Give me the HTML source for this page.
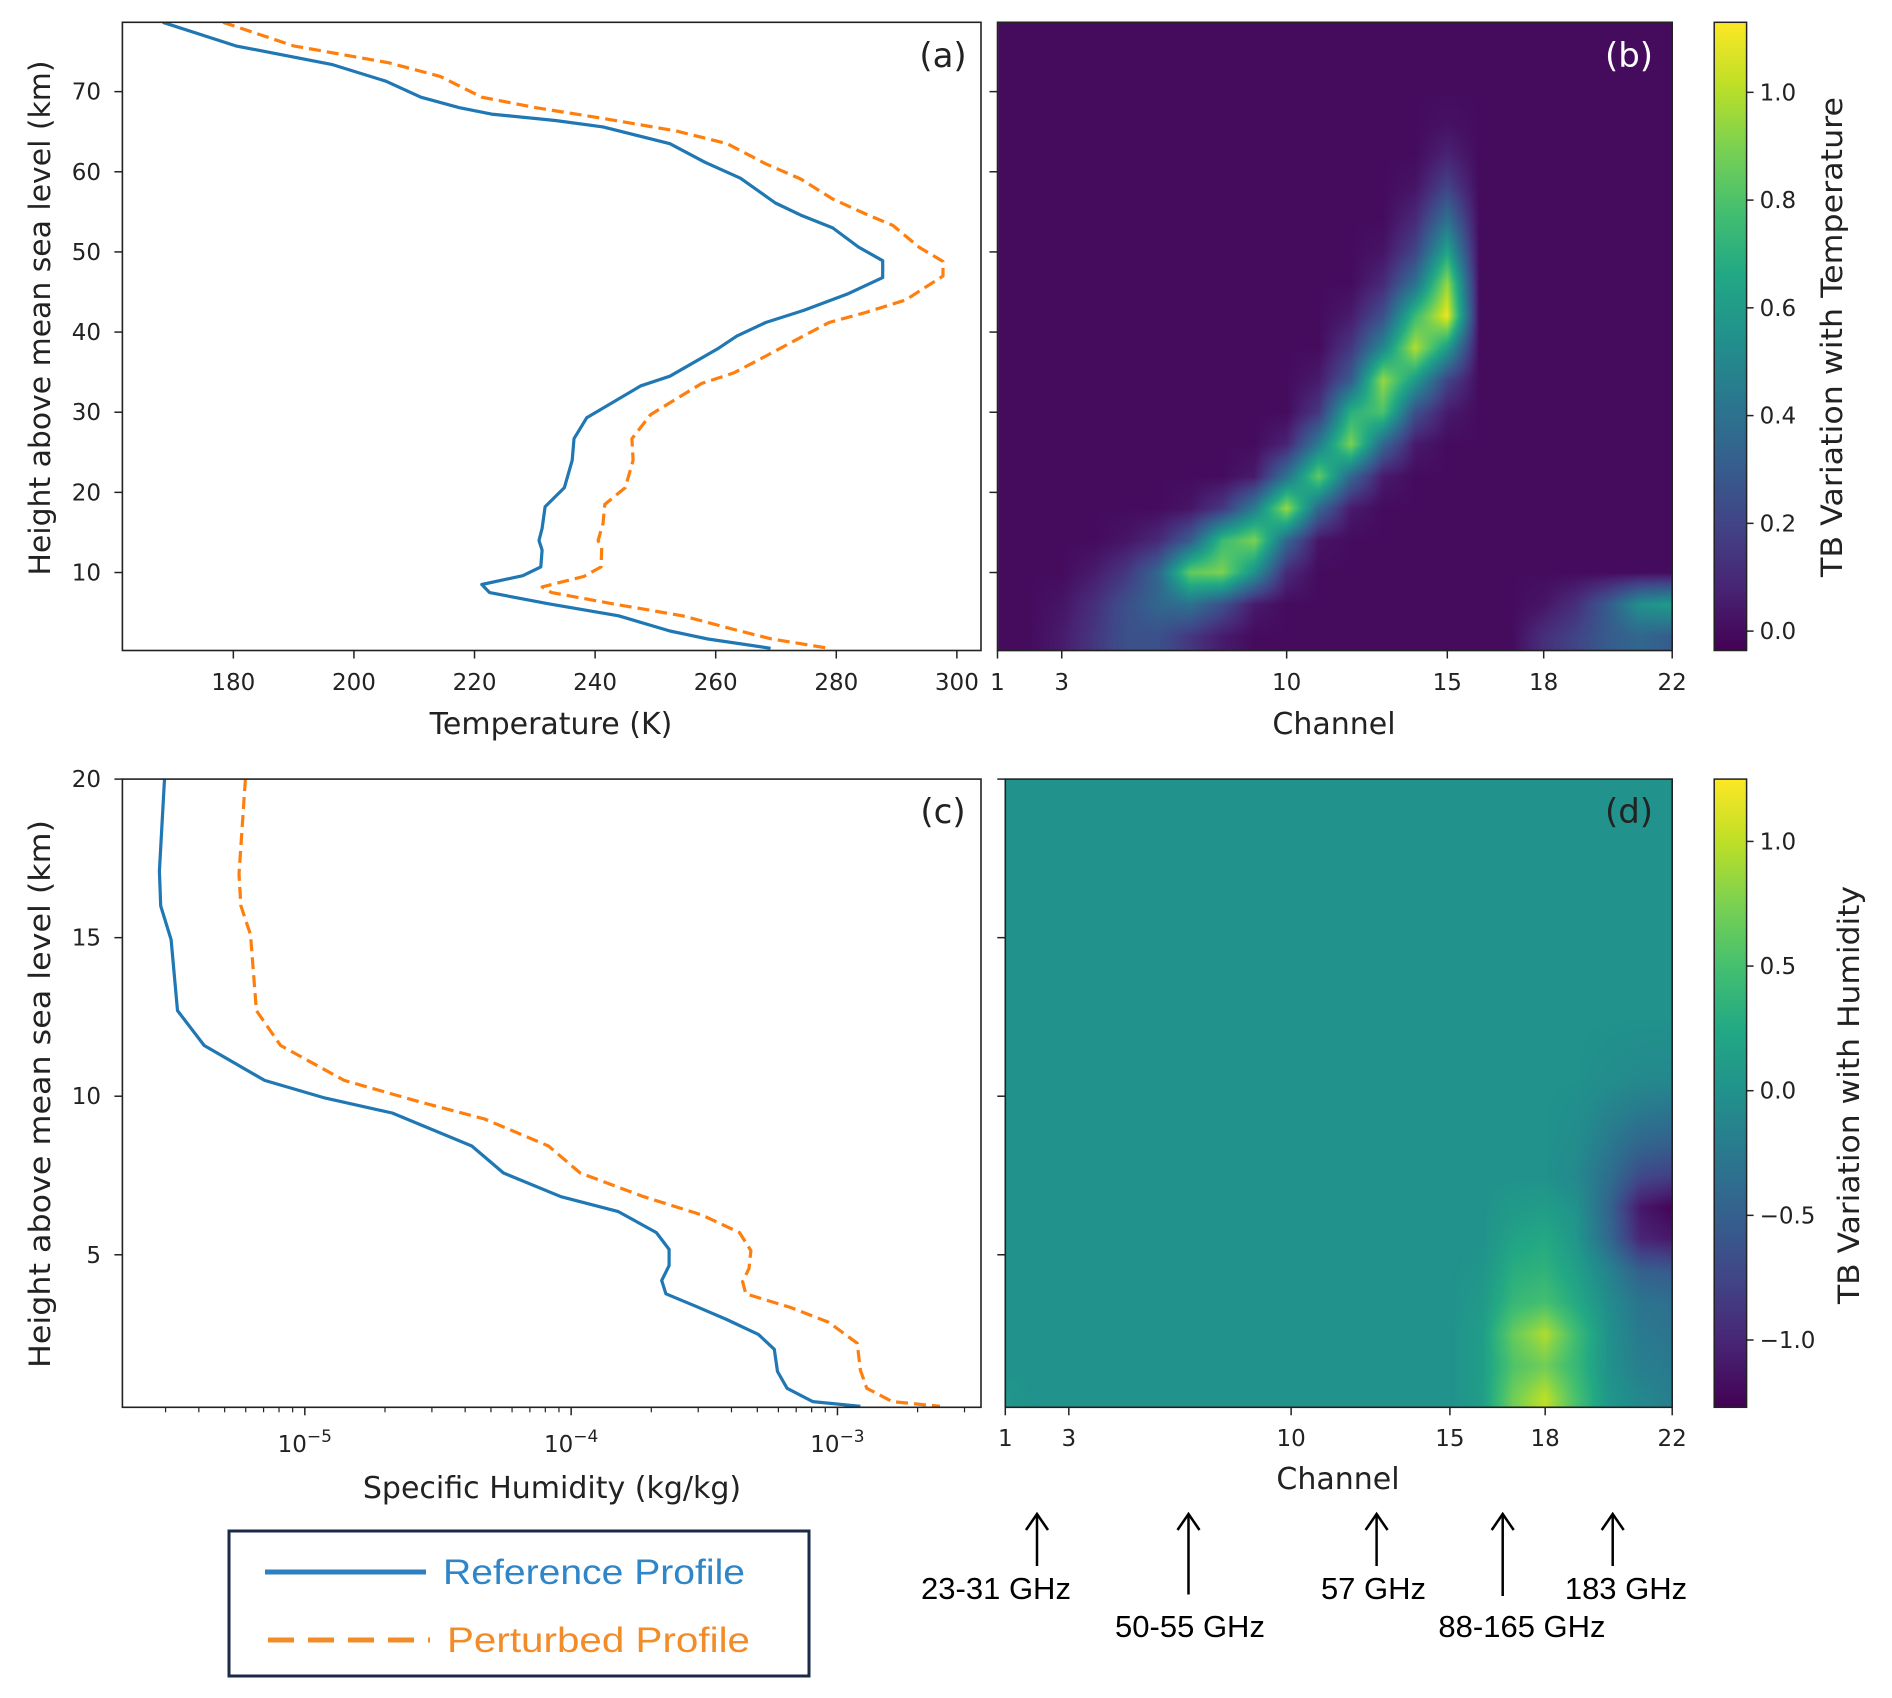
<!DOCTYPE html>
<html><head><meta charset="utf-8">
<style>
html,body{margin:0;padding:0;background:#fff;}
#wrap{position:relative;width:1892px;height:1698px;overflow:hidden;}
canvas{position:absolute;}
svg{position:absolute;left:0;top:0;}
text{font-family:"DejaVu Sans","Liberation Sans",sans-serif;fill:#222;}
.cal{font-family:"Liberation Sans",sans-serif;}
</style></head>
<body>
<div id="wrap">
<canvas id="hmB" width="1892" height="1698" style="left:0;top:0"></canvas>
<canvas id="hmD" width="1892" height="1698" style="left:0;top:0"></canvas>
<svg id="svg" width="1892" height="1698" xmlns="http://www.w3.org/2000/svg"></svg>
</div>
<script>
// ---------- DATA ----------
const tempRefT = [168.3,180.4,196.3,205.3,211.1,217.5,222.8,233.4,241.3,252.4,258.2,264.1,269.9,274.1,279.4,283.7,287.7,287.7,282.0,274.6,268.3,263.5,260.3,252.4,247.6,238.6,236.5,236.2,234.9,231.7,231.2,230.7,231.2,231.0,228.0,221.2,222.5,232.3,243.9,252.4,258.7,269.1];
const tempRefH = [78.65,75.7,73.4,71.3,69.3,68.0,67.2,66.4,65.6,63.5,61.2,59.2,56.1,54.6,53.0,50.6,48.9,46.8,44.8,42.7,41.2,39.5,37.9,34.5,33.3,29.3,26.7,24.0,20.6,18.2,15.5,14.0,12.8,10.7,9.6,8.5,7.5,6.1,4.6,2.7,1.7,0.55];
const tempPertT = [178.3,190,205.8,214.3,221.2,230.2,241.8,253.4,261.9,268.3,274.1,279.4,284.7,289.4,293.7,297.7,297.7,291.5,284.7,278.8,273.5,268.3,263.0,257.7,249.2,246.1,246.3,245.0,241.6,241.3,240.5,241.1,241.0,238.1,231.2,232.8,242.9,254.5,264.0,269.3,278.8];
const tempPertH = [78.65,75.7,73.6,71.9,69.3,68.0,66.6,65.1,63.5,61.0,59.1,56.6,54.8,53.3,50.6,48.8,47.0,44.0,42.4,41.2,39.1,37.0,34.9,33.6,29.7,26.7,24.0,20.6,18.5,16.1,14.0,13.1,10.7,9.5,8.2,7.5,6.1,4.6,2.7,1.7,0.55];
const humRefLogQ = [-5.527,-5.546,-5.541,-5.502,-5.478,-5.378,-5.151,-4.923,-4.672,-4.373,-4.254,-4.038,-3.823,-3.680,-3.632,-3.632,-3.660,-3.644,-3.536,-3.416,-3.297,-3.237,-3.225,-3.189,-3.093,-2.914];
const humRefH = [20,17.1,16.0,14.94,12.7,11.6,10.5,9.94,9.47,8.43,7.58,6.83,6.36,5.70,5.17,4.66,4.19,3.77,3.39,2.96,2.49,2.02,1.32,0.79,0.37,0.22];
const humPertLogQ = [-5.223,-5.247,-5.240,-5.204,-5.182,-5.091,-4.852,-4.564,-4.325,-4.085,-3.966,-3.727,-3.511,-3.368,-3.325,-3.332,-3.356,-3.344,-3.177,-3.033,-2.926,-2.914,-2.890,-2.794,-2.615];
const humPertH = [20,17.0,16.0,15.1,12.7,11.6,10.5,9.81,9.28,8.43,7.58,6.83,6.26,5.70,5.13,4.57,4.15,3.77,3.34,2.87,2.21,1.36,0.79,0.37,0.22];

const tempTicks = [180,200,220,240,260,280,300];
const heightTicksA = [10,20,30,40,50,60,70];
const heightTicksC = [5,10,15,20];
const qDecadeTicks = [-5,-4,-3];
const channelTicks = [1,3,10,15,18,22];
const cbTicksB = [0.0,0.2,0.4,0.6,0.8,1.0];
const cbTicksD = [-1.0,-0.5,0.0,0.5,1.0];

// heatmap (b): rows heights 78..2 step 4, columns channels 1..22
const hmBHeights = [78,74,70,66,62,58,54,50,46,42,38,34,30,26,22,18,14,10,6,2];
const hmBValues = [
[0,0,0,0,0,0,0,0,0,0,0,0,0,0,0,0,0,0,0,0,0,0],
[0,0,0,0,0,0,0,0,0,0,0,0,0,0,0,0,0,0,0,0,0,0],
[0,0,0,0,0,0,0,0,0,0,0,0,0,0,0,0,0,0,0,0,0,0],
[0,0,0,0,0,0,0,0,0,0,0,0,0,0,0.02,0,0,0,0,0,0,0],
[0,0,0,0,0,0,0,0,0,0,0,0,0,0,0.08,0,0,0,0,0,0,0],
[0,0,0,0,0,0,0,0,0,0,0,0,0,0.03,0.2,0,0,0,0,0,0,0],
[0,0,0,0,0,0,0,0,0,0,0,0,0,0.1,0.4,0,0,0,0,0,0,0],
[0,0,0,0,0,0,0,0,0,0,0,0,0.03,0.2,0.65,0,0,0,0,0,0,0],
[0,0,0,0,0,0,0,0,0,0,0,0,0.1,0.4,0.95,0,0,0,0,0,0,0],
[0,0,0,0,0,0,0,0,0,0,0,0.05,0.25,0.75,1.1,0,0,0,0,0,0,0],
[0,0,0,0,0,0,0,0,0,0,0,0.15,0.5,1.0,0.6,0,0,0,0,0,0,0],
[0,0,0,0,0,0,0,0,0,0,0.05,0.3,0.95,0.6,0.2,0,0,0,0,0,0,0],
[0,0,0,0,0,0,0,0,0,0,0.15,0.7,0.8,0.25,0.05,0,0,0,0,0,0,0],
[0,0,0,0,0,0,0,0,0,0.08,0.45,0.9,0.35,0.05,0,0,0,0,0,0,0,0],
[0,0,0,0,0,0,0,0,0.05,0.4,0.85,0.35,0.05,0,0,0,0,0,0,0,0,0],
[0,0,0,0,0,0,0.03,0.15,0.45,0.95,0.35,0.05,0,0,0,0,0,0,0,0,0,0],
[0,0,0,0,0.03,0.1,0.3,0.75,0.9,0.35,0.03,0,0,0,0,0,0,0,0,0,0,0],
[0,0,0,0.05,0.15,0.35,0.85,0.9,0.55,0.1,0,0,0,0,0,0,0,0,0,0,0,0],
[0,0,0.03,0.12,0.25,0.35,0.4,0.25,0.05,0,0,0,0,0,0,0,0,0.03,0.12,0.3,0.55,0.6],
[0,0,0.05,0.15,0.25,0.25,0.15,0.05,0,0,0,0,0,0,0,0,0,0.12,0.2,0.3,0.35,0.3]
];
// heatmap (d): rows heights 19.5..0.5 step 1
const hmDHeights = [19.5,18.5,17.5,16.5,15.5,14.5,13.5,12.5,11.5,10.5,9.5,8.5,7.5,6.5,5.5,4.5,3.5,2.5,1.5,0.5];
const hmDValues = [
[0,0,0,0,0,0,0,0,0,0,0,0,0,0,0,0,0,0,0,0,0,0],
[0,0,0,0,0,0,0,0,0,0,0,0,0,0,0,0,0,0,0,0,0,0],
[0,0,0,0,0,0,0,0,0,0,0,0,0,0,0,0,0,0,0,0,0,0],
[0,0,0,0,0,0,0,0,0,0,0,0,0,0,0,0,0,0,0,0,0,0],
[0,0,0,0,0,0,0,0,0,0,0,0,0,0,0,0,0,0,0,0,0,0],
[0,0,0,0,0,0,0,0,0,0,0,0,0,0,0,0,0,0,0,0,0,0],
[0,0,0,0,0,0,0,0,0,0,0,0,0,0,0,0,0,0,0,0,0,0],
[0,0,0,0,0,0,0,0,0,0,0,0,0,0,0,0,0,0,0,0,0,0],
[0,0,0,0,0,0,0,0,0,0,0,0,0,0,0,0,0,0,0,-0.02,-0.04,-0.05],
[0,0,0,0,0,0,0,0,0,0,0,0,0,0,0,0,0,0,0,-0.05,-0.1,-0.1],
[0,0,0,0,0,0,0,0,0,0,0,0,0,0,0,0,0,0,-0.03,-0.15,-0.25,-0.3],
[0,0,0,0,0,0,0,0,0,0,0,0,0,0,0,0,0,0,-0.05,-0.25,-0.45,-0.5],
[0,0,0,0,0,0,0,0,0,0,0,0,0,0,0,0,0,0,-0.1,-0.35,-0.7,-0.8],
[0,0,0,0,0,0,0,0,0,0,0,0,0,0,0,0,0.08,0.12,0,-0.45,-1.1,-1.25],
[0,0,0,0,0,0,0,0,0,0,0,0,0,0,0,0,0.18,0.25,0.05,-0.4,-1.0,-1.1],
[0,0,0,0,0,0,0,0,0,0,0,0,0,0,0,0.03,0.3,0.35,0.15,-0.15,-0.5,-0.55],
[0,0,0,0,0,0,0,0,0,0,0,0,0,0,0,0.08,0.4,0.5,0.25,-0.05,-0.3,-0.35],
[0,0,0,0,0,0,0,0,0,0,0,0,0,0,0,0.12,0.65,0.95,0.45,0,-0.25,-0.3],
[0,0,0,0,0,0,0,0,0,0,0,0,0,0,0,0.12,0.55,0.7,0.4,0,-0.2,-0.25],
[0.05,0,0,0,0,0,0,0,0,0,0,0,0,0,0,0.12,0.7,1.0,0.5,0.05,-0.1,-0.2]
];

// ---------- GEOMETRY ----------
const NS = "http://www.w3.org/2000/svg";
const svg = document.getElementById('svg');
const A = {l:122.4, r:981, t:22.3, b:650.5};
const B = {l:997.5, r:1672.2, t:22.3, b:650.5};
const C = {l:122.4, r:981, t:779.1, b:1407.3};
const D = {l:1005.3, r:1672.2, t:779.1, b:1407.3};
const CBB = {l:1714.2, r:1746.6, t:22.3, b:650.5, min:-0.036, max:1.13};
const CBD = {l:1714.2, r:1746.6, t:779.1, b:1407.3, min:-1.27, max:1.25};
const xT = v => A.l + (v-161.6)/(304-161.6)*(A.r-A.l);
const yA = v => A.t + (78.65-v)/(78.65-0.27)*(A.b-A.t);
const xQ = v => C.l + (v-(-5.685))/(-2.461-(-5.685))*(C.r-C.l);
const yC = v => C.t + (20-v)/(20-0.19)*(C.b-C.t);
const xChB = c => B.l + (c-1)/21*(B.r-B.l);
const xChD = c => D.l + (c-1)/21*(D.r-D.l);
const yB = yA;
const yD = yC;

function el(tag, attrs, parent){
  const e = document.createElementNS(NS, tag);
  for (const k in attrs) e.setAttribute(k, attrs[k]);
  (parent||svg).appendChild(e);
  return e;
}
function txt(s, attrs, parent){ const e = el('text', attrs, parent); e.textContent = s; return e; }

// viridis
const vir = ["#440154","#482475","#414487","#355f8d","#2a788e","#21918c","#22a884","#44bf70","#7ad151","#bddf26","#fde725"];
function hex(h){return [parseInt(h.slice(1,3),16),parseInt(h.slice(3,5),16),parseInt(h.slice(5,7),16)];}
const virRGB = vir.map(hex);
function viridis(t){
  t = Math.max(0, Math.min(1, t));
  const p = t*10, i = Math.min(9, Math.floor(p)), f = p - i;
  const a = virRGB[i], b = virRGB[i+1];
  return [0,1,2].map(k => Math.round(a[k]+(b[k]-a[k])*f));
}

// bilinear interpolation in value space, per pixel
function drawHeatmap(id, box, vals, heights, xf, yf, vmin, vmax, hStep){
  const cv = document.getElementById(id);
  const ctx = cv.getContext('2d');
  const rows = vals.length, cols = vals[0].length;
  const x0 = Math.round(box.l), x1 = Math.round(box.r), y0 = Math.round(box.t), y1 = Math.round(box.b);
  const W = x1-x0, H = y1-y0;
  const img = ctx.createImageData(W, H);
  const xc1 = xf(1), xcN = xf(2);
  const dx = xcN - xc1;
  const yh0 = yf(heights[0]), dy = yf(heights[0]-hStep) - yh0;
  for (let py=0; py<H; py++){
    let fr = (y0+py+0.5 - yh0)/dy;
    fr = Math.max(0, Math.min(rows-1, fr));
    const r0 = Math.min(rows-2, Math.floor(fr)), ty = fr - r0;
    for (let px=0; px<W; px++){
      let fc = (x0+px+0.5 - xc1)/dx;
      fc = Math.max(0, Math.min(cols-1, fc));
      const c0 = Math.min(cols-2, Math.floor(fc)), tx = fc - c0;
      const v = (vals[r0][c0]*(1-tx)+vals[r0][c0+1]*tx)*(1-ty) + (vals[r0+1][c0]*(1-tx)+vals[r0+1][c0+1]*tx)*ty;
      const col = viridis((v-vmin)/(vmax-vmin));
      const o = (py*W+px)*4;
      img.data[o]=col[0]; img.data[o+1]=col[1]; img.data[o+2]=col[2]; img.data[o+3]=255;
    }
  }
  ctx.putImageData(img, x0, y0);
}
drawHeatmap('hmB', B, hmBValues, hmBHeights, xChB, yB, CBB.min, CBB.max, 4);
drawHeatmap('hmD', D, hmDValues, hmDHeights, xChD, yD, CBD.min, CBD.max, 1);

// ---------- AXES ----------
function frame(box, name){
  const r = el('rect', {x:box.l, y:box.t, width:box.r-box.l, height:box.b-box.t, fill:'none', stroke:'#222', 'stroke-width':1.6});
  
  
}

const defs = el('defs', {});
function clip(id, box){ const c = el('clipPath', {id:id}, defs); el('rect', {x:box.l, y:box.t, width:box.r-box.l, height:box.b-box.t}, c); }
clip('clipA', A); clip('clipC', C);

// Panel A
const gA = el('g', {'clip-path':'url(#clipA)'});


{
  const p1 = el('polyline', {points: tempRefT.map((t,i)=>xT(t).toFixed(1)+','+yA(tempRefH[i]).toFixed(1)).join(' '), fill:'none', stroke:'#1f77b4', 'stroke-width':3.2,'stroke-linejoin':'round'}, gA);
  
  
  const p2 = el('polyline', {points: tempPertT.map((t,i)=>xT(t).toFixed(1)+','+yA(tempPertH[i]).toFixed(1)).join(' '), fill:'none', stroke:'#ff7f0e', 'stroke-width':3.2,'stroke-dasharray':'12 6','stroke-linejoin':'round'}, gA);
  
  
}
frame(A, 'axes-a');
tempTicks.forEach(v=>{
  const x = xT(v);
  el('line', {x1:x, x2:x, y1:A.b, y2:A.b+8, stroke:'#222', 'stroke-width':1.5});
  const t = txt(String(v), {x:x, y:690, 'font-size':23, 'text-anchor':'middle'});
  
  
});
heightTicksA.forEach(v=>{
  const y = yA(v);
  el('line', {x1:A.l-8, x2:A.l, y1:y, y2:y, stroke:'#222', 'stroke-width':1.5});
  el('line', {x1:B.l-8, x2:B.l, y1:y, y2:y, stroke:'#222', 'stroke-width':1.5});
  const t = txt(String(v), {x:101, y:y+8, 'font-size':23, 'text-anchor':'end'});
  
  
});
txt('Temperature (K)', {x:551, y:734, 'font-size':30, 'text-anchor':'middle',  });
txt('Height above mean sea level (km)', {x:0, y:0, 'font-size':29, 'text-anchor':'middle', transform:'translate(50,318) rotate(-90)', textLength:515, lengthAdjust:'spacingAndGlyphs',  });
txt('(a)', {x:943, y:67, 'font-size':34, 'text-anchor':'middle',  });

// Panel B
frame(B, 'axes-b');
channelTicks.forEach(c=>{
  const x = xChB(c);
  el('line', {x1:x, x2:x, y1:B.b, y2:B.b+8, stroke:'#222', 'stroke-width':1.5});
  const t = txt(String(c), {x:x, y:690, 'font-size':23, 'text-anchor':'middle'});
  
  
});
txt('Channel', {x:1334, y:734, 'font-size':30, 'text-anchor':'middle',  });
txt('(b)', {x:1629, y:67, 'font-size':34, 'text-anchor':'middle', style:'fill:#fff',  });

// colorbars
const grad = el('linearGradient', {id:'vg', x1:0, y1:1, x2:0, y2:0}, defs);
vir.forEach((c,i)=>el('stop', {offset:(i/10), 'stop-color':c}, grad));
function colorbar(cb, ticks, label, lx, ly, llen, name){
  const r = el('rect', {x:cb.l, y:cb.t, width:cb.r-cb.l, height:cb.b-cb.t, fill:'url(#vg)', stroke:'#222', 'stroke-width':1.5});
  
  
  const yv = v => cb.b - (v-cb.min)/(cb.max-cb.min)*(cb.b-cb.t);
  ticks.forEach(v=>{
    const y = yv(v);
    el('line', {x1:cb.r, x2:cb.r+7, y1:y, y2:y, stroke:'#222', 'stroke-width':1.5});
    const s = v<0 ? '\u2212'+Math.abs(v).toFixed(1) : v.toFixed(1);
    const t = txt(s, {x:cb.r+13, y:y+8, 'font-size':23});
    
    
  });
  txt(label, {x:0, y:0, 'font-size':29, 'text-anchor':'middle', transform:'translate('+lx+','+ly+') rotate(-90)', textLength:llen, lengthAdjust:'spacingAndGlyphs',  });
}
colorbar(CBB, cbTicksB, 'TB Variation with Temperature', 1842, 337, 480, 'colorbar-temperature');
colorbar(CBD, cbTicksD, 'TB Variation with Humidity', 1859, 1095, 418, 'colorbar-humidity');

// Panel C
const gC = el('g', {'clip-path':'url(#clipC)'});


{
  const p1 = el('polyline', {points: humRefLogQ.map((q,i)=>xQ(q).toFixed(1)+','+yC(humRefH[i]).toFixed(1)).join(' '), fill:'none', stroke:'#1f77b4', 'stroke-width':3.2,'stroke-linejoin':'round'}, gC);
  
  
  const p2 = el('polyline', {points: humPertLogQ.map((q,i)=>xQ(q).toFixed(1)+','+yC(humPertH[i]).toFixed(1)).join(' '), fill:'none', stroke:'#ff7f0e', 'stroke-width':3.2,'stroke-dasharray':'12 6','stroke-linejoin':'round'}, gC);
  
  
}
frame(C, 'axes-c');
qDecadeTicks.forEach(d=>{
  const x = xQ(d);
  el('line', {x1:x, x2:x, y1:C.b, y2:C.b+8, stroke:'#222', 'stroke-width':1.5});
  const t = el('text', {x:x, y:1452, 'font-size':23, 'text-anchor':'middle'});
  
  
  t.appendChild(document.createTextNode('10'));
  const sp = el('tspan', {dy:-10, 'font-size':17}, t);
  sp.textContent = '\u2212' + Math.abs(d);
});
for (let d=-6; d<=-3; d++) for (let m=2; m<=9; m++){
  const v = d + Math.log10(m);
  if (v < -5.685 || v > -2.461) continue;
  const x = xQ(v);
  el('line', {x1:x, x2:x, y1:C.b, y2:C.b+5, stroke:'#222', 'stroke-width':1.2});
}
heightTicksC.forEach(v=>{
  const y = yC(v);
  el('line', {x1:C.l-8, x2:C.l, y1:y, y2:y, stroke:'#222', 'stroke-width':1.5});
  el('line', {x1:D.l-8, x2:D.l, y1:y, y2:y, stroke:'#222', 'stroke-width':1.5});
  const t = txt(String(v), {x:101, y:y+8, 'font-size':23, 'text-anchor':'end'});
  
  
});
txt('Specific Humidity (kg/kg)', {x:552, y:1498, 'font-size':30, 'text-anchor':'middle',  });
txt('Height above mean sea level (km)', {x:0, y:0, 'font-size':29, 'text-anchor':'middle', transform:'translate(50,1094) rotate(-90)', textLength:548, lengthAdjust:'spacingAndGlyphs',  });
txt('(c)', {x:943, y:823, 'font-size':34, 'text-anchor':'middle',  });

// Panel D
frame(D, 'axes-d');
channelTicks.forEach(c=>{
  const x = xChD(c);
  el('line', {x1:x, x2:x, y1:D.b, y2:D.b+8, stroke:'#222', 'stroke-width':1.5});
  const t = txt(String(c), {x:x, y:1446, 'font-size':23, 'text-anchor':'middle'});
  
  
});
txt('Channel', {x:1338, y:1489, 'font-size':30, 'text-anchor':'middle',  });
txt('(d)', {x:1629, y:823, 'font-size':34, 'text-anchor':'middle',  });

// Frequency arrows
const arrowLabels = ['23-31 GHz','50-55 GHz','57 GHz','88-165 GHz','183 GHz'];
const arrowX = [1037,1188.5,1376.6,1502.7,1612.7];
const arrowBottom = [1566,1594.5,1566,1596,1566];
const arrowTextX = [996,1190,1373.5,1522,1626];
const arrowTextY = [1599,1637,1599,1637,1599];
arrowLabels.forEach((s,i)=>{
  const g = el('g', {});
  
  
  el('line', {x1:arrowX[i], x2:arrowX[i], y1:1515, y2:arrowBottom[i], stroke:'#000', 'stroke-width':2.5}, g);
  el('polyline', {points:(arrowX[i]-11)+',1530 '+arrowX[i]+',1514 '+(arrowX[i]+11)+',1530', fill:'none', stroke:'#000', 'stroke-width':2.5}, g);
  txt(s, {x:arrowTextX[i], y:arrowTextY[i], 'font-size':31, 'text-anchor':'middle', class:'cal', style:'fill:#000'}, g);
});

// Legend
const lg = el('g', {});


el('rect', {x:229, y:1531, width:580, height:145, fill:'#fff', stroke:'#1c2a4a', 'stroke-width':3}, lg);
el('line', {x1:265, x2:426, y1:1572, y2:1572, stroke:'#2f7fc1', 'stroke-width':5}, lg);
txt('Reference Profile', {x:443, y:1584, 'font-size':35, class:'cal', style:'fill:#2e86c8', textLength:302, lengthAdjust:'spacingAndGlyphs'}, lg);
el('line', {x1:268, x2:430, y1:1640, y2:1640, stroke:'#f28c28', 'stroke-width':5, 'stroke-dasharray':'26 14'}, lg);
txt('Perturbed Profile', {x:447, y:1652, 'font-size':35, class:'cal', style:'fill:#f28c28', textLength:303, lengthAdjust:'spacingAndGlyphs'}, lg);
</script>
</body></html>
